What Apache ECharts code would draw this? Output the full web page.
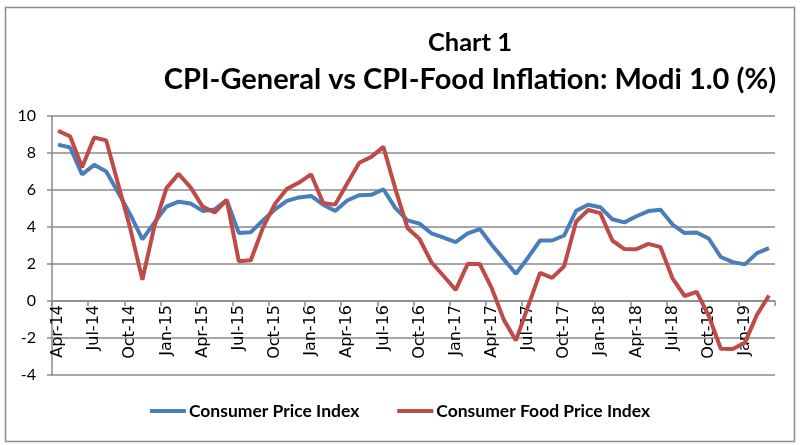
<!DOCTYPE html>
<html>
<head>
<meta charset="utf-8">
<script src="https://cdn.jsdelivr.net/npm/echarts@6/dist/echarts.min.js"></script>
<style>
html,body{margin:0;padding:0;background:#fff;}
#chart{width:800px;height:445px;}
</style>
</head>
<body>
<div id="chart"></div>
<script>
const months = [
 'Apr-14','May-14','Jun-14','Jul-14','Aug-14','Sep-14','Oct-14','Nov-14','Dec-14',
 'Jan-15','Feb-15','Mar-15','Apr-15','May-15','Jun-15','Jul-15','Aug-15','Sep-15','Oct-15','Nov-15','Dec-15',
 'Jan-16','Feb-16','Mar-16','Apr-16','May-16','Jun-16','Jul-16','Aug-16','Sep-16','Oct-16','Nov-16','Dec-16',
 'Jan-17','Feb-17','Mar-17','Apr-17','May-17','Jun-17','Jul-17','Aug-17','Sep-17','Oct-17','Nov-17','Dec-17',
 'Jan-18','Feb-18','Mar-18','Apr-18','May-18','Jun-18','Jul-18','Aug-18','Sep-18','Oct-18','Nov-18','Dec-18',
 'Jan-19','Feb-19','Mar-19'
];
const cpi = [
 8.45, 8.30, 6.84, 7.36, 7.00, 5.85, 4.67, 3.33, 4.24,
 5.10, 5.37, 5.27, 4.87, 4.95, 5.45, 3.68, 3.72, 4.35, 4.95, 5.41, 5.60,
 5.68, 5.21, 4.86, 5.43, 5.72, 5.74, 6.04, 5.02, 4.36, 4.18, 3.65, 3.43,
 3.18, 3.66, 3.89, 3.03, 2.25, 1.47, 2.34, 3.27, 3.27, 3.54, 4.88, 5.20,
 5.07, 4.42, 4.25, 4.58, 4.86, 4.93, 4.13, 3.67, 3.70, 3.38, 2.38, 2.10,
 1.98, 2.59, 2.86
];
const cfpi = [
 9.20, 8.90, 7.23, 8.84, 8.68, 6.30, 3.90, 1.15, 4.05,
 6.10, 6.87, 6.14, 5.10, 4.78, 5.46, 2.15, 2.20, 3.95, 5.25, 6.07, 6.40,
 6.85, 5.30, 5.21, 6.35, 7.47, 7.79, 8.33, 6.05, 3.95, 3.35, 2.08, 1.35,
 0.60, 2.01, 2.00, 0.68, -1.02, -2.13, -0.30, 1.52, 1.25, 1.88, 4.30, 4.92,
 4.75, 3.27, 2.81, 2.80, 3.09, 2.91, 1.22, 0.27, 0.49, -0.80, -2.58, -2.60,
 -2.25, -0.75, 0.30
];
const seriesNames = ['Consumer Price Index', 'Consumer Food Price Index'];
const titleLine1 = 'Chart 1';
const titleLine2 = 'CPI-General vs CPI-Food Inflation: Modi 1.0 (%)';

const yMin = -4, yMax = 10;
const gridTop = 116, gridBottom = 70, chartH = 445;
// move the category axis up to the value 0 (as in the Excel original)
const plotH = chartH - gridTop - gridBottom;
const zeroOffset = -plotH * (0 - yMin) / (yMax - yMin);

const chart = echarts.init(document.getElementById('chart'), null, {renderer: 'canvas'});
const gridColor = '#8a8a8a';
chart.setOption({
  animation: false,
  backgroundColor: '#ffffff',
  graphic: [
    {type: 'rect', shape: {x: 5.5, y: 7.5, width: 789, height: 434}, style: {fill: 'none', stroke: '#8c8c8c', lineWidth: 1.5}, silent: true},
    {type: 'text', x: 470, y: 43, style: {text: titleLine1, textAlign: 'center', textVerticalAlign: 'middle', font: 'bold 25.5px Lato, "Liberation Sans", sans-serif', fill: '#000'}},
    {type: 'text', x: 470, y: 80, style: {text: titleLine2, textAlign: 'center', textVerticalAlign: 'middle', font: 'bold 29px Lato, "Liberation Sans", sans-serif', fill: '#000'}}
  ],
  legend: {
    bottom: 20,
    left: 'center',
    itemWidth: 36,
    itemHeight: 4,
    itemGap: 38,
    icon: 'rect',
    textStyle: {fontFamily: 'Lato, "Liberation Sans", sans-serif', fontWeight: 'bold', fontSize: 17.5, color: '#000', padding: [0, 0, 0, -2]},
    data: seriesNames
  },
  grid: {left: 52, right: 25, top: gridTop, bottom: gridBottom, containLabel: false},
  xAxis: {
    type: 'category',
    data: months,
    boundaryGap: true,
    offset: zeroOffset,
    axisLine: {onZero: false, lineStyle: {color: gridColor, width: 1.5}},
    axisTick: {show: true, interval: 2, length: 5, lineStyle: {color: gridColor, width: 1.5}},
    axisLabel: {interval: 2, rotate: 90, fontSize: 16, margin: 4, color: '#000', fontFamily: '"DejaVu Sans", sans-serif'},
    splitLine: {show: false}
  },
  yAxis: {
    type: 'value',
    min: yMin, max: yMax, interval: 2,
    axisLine: {show: true, lineStyle: {color: gridColor, width: 1.5}},
    axisTick: {show: true, length: 5, lineStyle: {color: gridColor, width: 1.5}},
    axisLabel: {fontSize: 16, color: '#000', margin: 16, fontFamily: 'Lato, "Liberation Sans", sans-serif'},
    splitLine: {show: true, lineStyle: {color: gridColor, width: 1.5}}
  },
  series: [
    {name: seriesNames[0], type: 'line', data: cpi, symbol: 'none', lineStyle: {color: '#4a7ebb', width: 4}, itemStyle: {color: '#4a7ebb'}, z: 2},
    {name: seriesNames[1], type: 'line', data: cfpi, symbol: 'none', lineStyle: {color: '#be4b48', width: 4}, itemStyle: {color: '#be4b48'}, z: 3}
  ]
});
</script>
</body>
</html>
